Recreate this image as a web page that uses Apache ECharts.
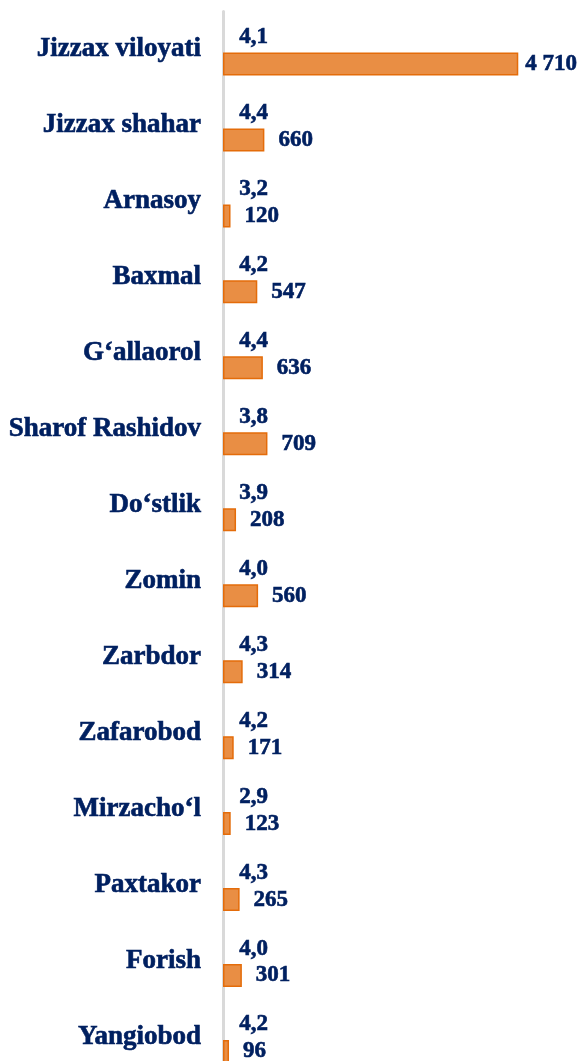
<!DOCTYPE html>
<html>
<head>
<meta charset="utf-8">
<script src="https://cdn.jsdelivr.net/npm/echarts@6/dist/echarts.min.js"></script>
<style>
  html, body { margin: 0; padding: 0; background: #fff; overflow: hidden; }
  #chart { width: 581px; height: 1090px; }
</style>
</head>
<body>
<div id="chart"></div>
<script>
var regions = ['Jizzax viloyati', 'Jizzax shahar', 'Arnasoy', 'Baxmal', 'G‘allaorol', 'Sharof Rashidov',
  'Do‘stlik', 'Zomin', 'Zarbdor', 'Zafarobod', 'Mirzacho‘l', 'Paxtakor', 'Forish', 'Yangiobod'];
var counts = [4710, 660, 120, 547, 636, 709, 208, 560, 314, 171, 123, 265, 301, 96];
var shares = [4.1, 4.4, 3.2, 4.2, 4.4, 3.8, 3.9, 4.0, 4.3, 4.2, 2.9, 4.3, 4.0, 4.2];

var font = "'Liberation Serif', 'Times New Roman', serif";
var navy = '#002060';

// the first label sits at the chart edge, so it is closer to its bar
var countData = counts.map(function (v, i) {
  return i === 0 ? { value: v, label: { distance: 7 } } : v;
});

var chart = echarts.init(document.getElementById('chart'));
chart.setOption({
  animation: false,
  grid: { left: 223, top: 11.5, width: 326, height: 1063.5 },
  xAxis: {
    type: 'value', min: 0, max: 5200, show: false
  },
  yAxis: {
    type: 'category',
    inverse: true,
    data: regions,
    axisLine: { show: true, lineStyle: { color: '#d9d9d9', width: 3 } },
    axisTick: { show: false },
    axisLabel: {
      margin: 22,
      color: navy,
      fontFamily: font,
      fontWeight: 'bold',
      fontSize: 27,
      textBorderColor: navy,
      textBorderWidth: 0.6
    }
  },
  series: [
    {
      name: 'ulush',
      type: 'bar',
      barWidth: 23,
      barGap: '26%',
      data: shares,
      itemStyle: { color: 'rgba(0,0,0,0)' },
      label: {
        show: true, position: 'right', distance: 16, offset: [0, 2],
        color: navy, fontFamily: font, fontWeight: 'bold', fontSize: 23,
        textBorderColor: navy, textBorderWidth: 0.6,
        formatter: function (p) { return p.value.toFixed(1).replace('.', ','); }
      }
    },
    {
      name: 'soni',
      type: 'bar',
      barWidth: 23,
      data: countData,
      itemStyle: { color: '#E98E44', borderColor: '#E46C0A', borderWidth: 1.5 },
      label: {
        show: true, position: 'right', distance: 14,
        color: navy, fontFamily: font, fontWeight: 'bold', fontSize: 23,
        textBorderColor: navy, textBorderWidth: 0.6,
        formatter: function (p) { return String(p.value).replace(/\B(?=(\d{3})+(?!\d))/g, ' '); }
      }
    }
  ]
});
</script>
</body>
</html>
